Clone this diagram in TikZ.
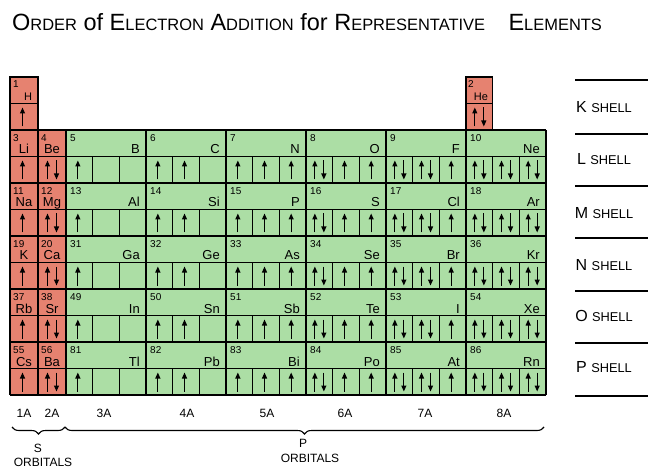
\documentclass[tikz,border=0pt]{standalone}
\usepackage{fontspec}
\setmainfont{Liberation Sans}
\usetikzlibrary{arrows.meta,decorations.pathreplacing}

\definecolor{sred}{RGB}{230,130,112}
\definecolor{pgreen}{RGB}{172,222,165}

% big first letter, rest of the word in smaller capitals
\newcommand{\capword}[2]{#1\scalebox{0.7}{#2}}

% electrons in one box: #1 centre x, #2 top of the arrow row, #3 how many
\newcommand{\fillbox}[3]{%
  \ifnum#3=1
    \draw[electron] (#1-1.5,#2+23) -- (#1-1.5,#2+4);
  \fi
  \ifnum#3=2
    \draw[electron] (#1-4.5,#2+23) -- (#1-4.5,#2+4);
    \draw[electron] (#1+4.5,#2+4) -- (#1+4.5,#2+23);
  \fi}

\begin{document}
\begin{tikzpicture}[x=1pt,y=-1pt,
    grid/.style={line width=1.1pt},
    electron/.style={line width=1.1pt,-{Triangle[length=6pt,width=5pt]}},
    num/.style={anchor=north west,inner sep=0pt,font=\fontsize{10}{10}\selectfont},
    sym/.style={anchor=base,inner sep=0pt,font=\fontsize{13}{13}\selectfont},
    psym/.style={sym,anchor=base east},
    lbl/.style={inner sep=0pt,font=\fontsize{12}{12}\selectfont},
    brace/.style={decorate,line width=1.1pt,decoration={brace,mirror,amplitude=7pt}}]
  \useasboundingbox (0,0) rectangle (648,473);

  \node[anchor=base west,inner sep=0pt,font=\fontsize{23.5}{23.5}\selectfont] (title) at (12,31)
    {\capword{O}{RDER} of \capword{E}{LECTRON} \capword{A}{DDITION} for \capword{R}{EPRESENTATIVE}\quad\capword{E}{LEMENTS}};

  % colouring of the s and p blocks
  \fill[sred] (10,77) rectangle (38,130);
  \fill[sred] (10,130) rectangle (66,395);
  \fill[pgreen] (66,130) rectangle (546,395);
  \fill[sred] (466,77) rectangle (492.67,130);

  % table lines
  \foreach \k in {2,...,12} \draw[grid] (10,77+26.5*\k) -- (546,77+26.5*\k);
  \draw[grid] (10,130) -- (10,77) -- (38,77) -- (38,130);
  \draw[grid] (10,103.5) -- (38,103.5);
  \draw[grid] (466,130) -- (466,77) -- (492.67,77) -- (492.67,130);
  \draw[grid] (466,103.5) -- (492.67,103.5);
  \foreach \x in {10,38,66,146,226,306,386,466,546} \draw[grid] (\x,130) -- (\x,395);
  \foreach \p in {2,...,6}
    \foreach \x in {66,146,...,466}
      \draw[grid] (\x+26.67,50.5+53*\p) -- (\x+26.67,77+53*\p)
                  (\x+53.33,50.5+53*\p) -- (\x+53.33,77+53*\p);

  % period 1
  \node[num] (z1) at (13,80) {1};
  \node[sym,font=\fontsize{11}{11}\selectfont] (H) at (28,101) {H};
  \fillbox{24}{103.5}{1}
  \node[num] (z2) at (468,80) {2};
  \node[sym,font=\fontsize{11}{11}\selectfont] (He) at (481,101) {He};
  \fillbox{479.3}{103.5}{2}

  % periods 2 to 6
  \foreach \p/\els in {2/{3/Li,4/Be,5/B,6/C,7/N,8/O,9/F,10/Ne},
                       3/{11/Na,12/Mg,13/Al,14/Si,15/P,16/S,17/Cl,18/Ar},
                       4/{19/K,20/Ca,31/Ga,32/Ge,33/As,34/Se,35/Br,36/Kr},
                       5/{37/Rb,38/Sr,49/In,50/Sn,51/Sb,52/Te,53/I,54/Xe},
                       6/{55/Cs,56/Ba,81/Tl,82/Pb,83/Bi,84/Po,85/At,86/Rn}} {
    \pgfmathsetmacro\yt{24+53*\p}
    \foreach \z/\s [count=\g] in \els {
      \ifnum\g<3
        \pgfmathsetmacro\xl{10+28*(\g-1)}
        \node[num] (z\z) at (\xl+3,\yt+4) {\z};
        \node[sym] (\s) at (\xl+14,\yt+24) {\s};
        \fillbox{\xl+14}{\yt+26.5}{\g}
      \else
        \pgfmathsetmacro\xl{66+80*(\g-3)}
        \node[num] (z\z) at (\xl+4,\yt+4) {\z};
        \node[psym] (\s) at (\xl+74,\yt+24) {\s};
        \foreach \k in {1,2,3} {
          \pgfmathtruncatemacro\e{\g<=5 ? (\k<=\g-2 ? 1 : 0) : (\k<=\g-5 ? 2 : 1)}
          \fillbox{\xl+26.67*\k-13.33}{\yt+26.5}{\e}
        }
      \fi
    }
  }

  % shells
  \foreach \y in {80,134,186,238,291,343,396} \draw[grid] (575,\y) -- (648,\y);
  \foreach \sh/\y in {K/107,L/159,M/213,N/265,O/316,P/367}
    \node[font=\fontsize{16}{16}\selectfont,inner sep=0pt] (\sh shell) at (604,\y)
      {\sh\ \scalebox{0.8}{SHELL}};

  % groups and orbitals
  \foreach \gr/\x in {1A/24,2A/52,3A/104,4A/187,5A/267,6A/345,7A/425,8A/504}
    \node[lbl] (g\gr) at (\x,413) {\gr};
  \coordinate (sL) at (12,427);
  \coordinate (sR) at (65,427);
  \coordinate (pR) at (544,427);
  \draw[brace] (sL) -- (sR);
  \draw[brace] (sR) -- (pR);
  \node[lbl] (sS) at (38,448) {S};
  \node[lbl] (sorb) at (43,462) {ORBITALS};
  \node[lbl] (pP) at (303,443) {P};
  \node[lbl] (porb) at (310,458) {ORBITALS};
\end{tikzpicture}
\end{document}
